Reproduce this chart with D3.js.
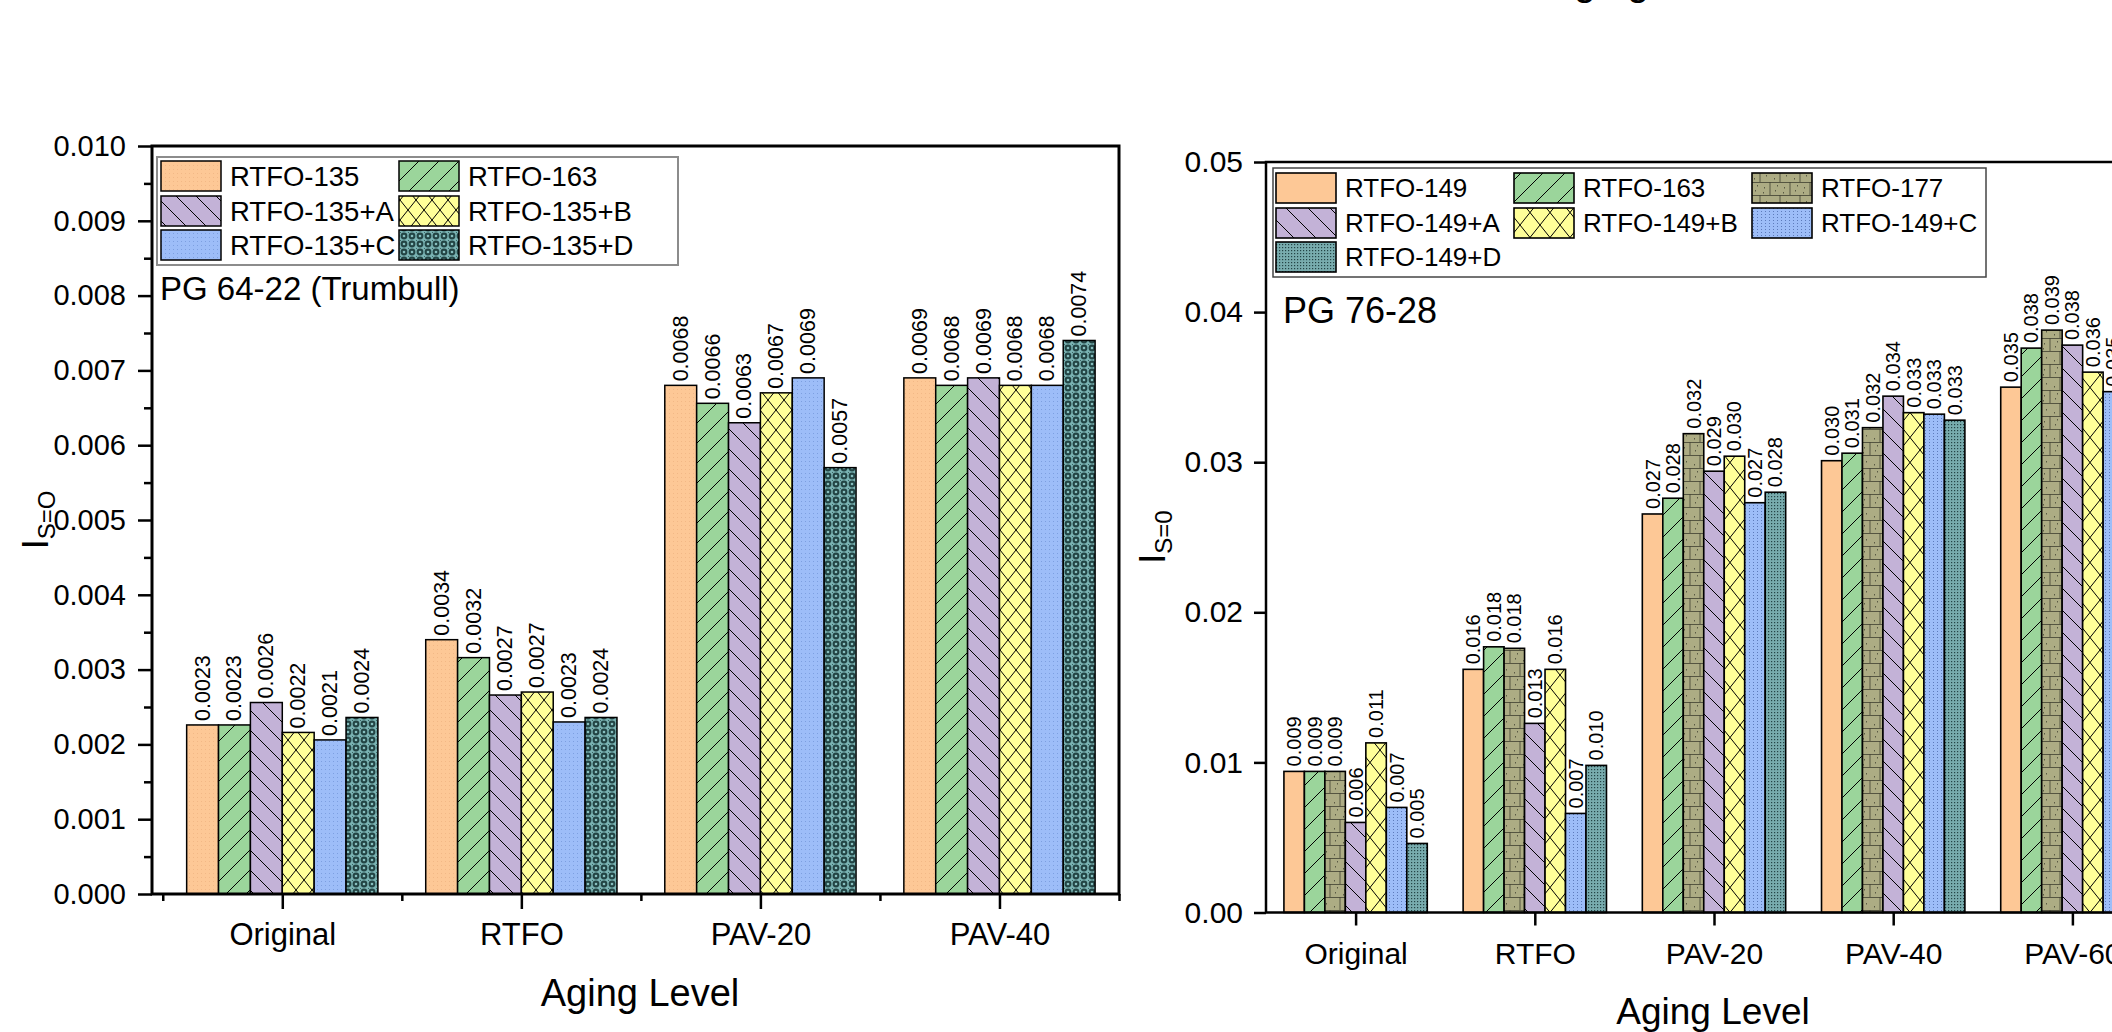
<!DOCTYPE html>
<html><head><meta charset="utf-8">
<script src="https://cdn.jsdelivr.net/npm/d3@7"></script>
<style>
body{margin:0;background:#fff}
svg{display:block}
text{font-family:"Liberation Sans",Arial,sans-serif;fill:#000}
</style>
</head><body>
<svg id="c" width="2112" height="1032"></svg>
<script>
// ---------- DATA ----------
const catsL = ["Original","RTFO","PAV-20","PAV-40"];
const seriesL = ["RTFO-135","RTFO-163","RTFO-135+A","RTFO-135+B","RTFO-135+C","RTFO-135+D"];
const L_135  = [0.00226, 0.00340, 0.00680, 0.00690];
const L_163  = [0.00226, 0.00316, 0.00656, 0.00680];
const L_135A = [0.00256, 0.00266, 0.00630, 0.00690];
const L_135B = [0.00216, 0.00270, 0.00670, 0.00680];
const L_135C = [0.00206, 0.00230, 0.00690, 0.00680];
const L_135D = [0.00236, 0.00236, 0.00570, 0.00740];
const yTicksL = [0,0.001,0.002,0.003,0.004,0.005,0.006,0.007,0.008,0.009,0.010];

const catsR = ["Original","RTFO","PAV-20","PAV-40","PAV-60"];
const seriesR = ["RTFO-149","RTFO-163","RTFO-177","RTFO-149+A","RTFO-149+B","RTFO-149+C","RTFO-149+D"];
const R_149  = [0.0094, 0.0162, 0.02655, 0.0301, 0.0350];
const R_163  = [0.0094, 0.0177, 0.0276, 0.0306, 0.0376];
const R_177  = [0.0094, 0.0176, 0.0319, 0.0323, 0.0388];
const R_149A = [0.0060, 0.0126, 0.0294, 0.0344, 0.0378];
const R_149B = [0.0113, 0.0162, 0.0304, 0.0333, 0.0360];
const R_149C = [0.0070, 0.0066, 0.0273, 0.0332, 0.0347];
const R_149D = [0.0046, 0.0098, 0.0280, 0.0328, 0.0360];
const yTicksR = [0,0.01,0.02,0.03,0.04,0.05];

const valsL = [L_135, L_163, L_135A, L_135B, L_135C, L_135D];
const valsR = [R_149, R_163, R_177, R_149A, R_149B, R_149C, R_149D];

// ---------- SVG ----------
const svg = d3.select("#c");
const defs = svg.append("defs");

const C = {orange:"#FDC896", green:"#9BD59B", purple:"#C3B2D7", yellow:"#FFFF99",
           blue:"#9DBDF8", olive:"#ADAC84"};

function pat(id,w,h,bg,draw){
  const p = defs.append("pattern").attr("id",id).attr("patternUnits","userSpaceOnUse")
    .attr("width",w).attr("height",h);
  p.append("rect").attr("width",w).attr("height",h).attr("fill",bg);
  if(draw) draw(p,w,h);
  return "url(#"+id+")";
}
function lines(p,d,sw,col){ p.append("path").attr("d",d).attr("stroke",col||"#000").attr("stroke-width",sw).attr("fill","none"); }

// left patterns
const fillL = [
  pat("lo",4,4,C.orange,(p)=>p.append("rect").attr("x",1).attr("y",1).attr("width",1).attr("height",1).attr("fill","#f2b886")),
  pat("lg",20,20,C.green,(p)=>lines(p,"M0,20L20,0M-5,5L5,-5M15,25L25,15",1)),
  pat("lp",20,20,C.purple,(p)=>lines(p,"M0,0L20,20M-5,15L5,25M15,-5L25,5",1)),
  pat("ly",16,20,C.yellow,(p)=>lines(p,"M0,0L16,20M16,0L0,20",1)),
  pat("lb",4,4,C.blue,(p)=>p.append("rect").attr("x",1).attr("y",1).attr("width",1).attr("height",1).attr("fill","#7d9fe0")),
  pat("lt",8,8,"#79b2b2",(p)=>{
    p.append("circle").attr("cx",4).attr("cy",4).attr("r",3.4).attr("fill","#234545");
    p.append("circle").attr("cx",4).attr("cy",4).attr("r",1.3).attr("fill","#86bebe");
    p.append("rect").attr("x",0).attr("y",0).attr("width",1).attr("height",1).attr("fill","#3b6464");
  })
];
// right patterns
const fillR = [
  C.orange,
  pat("rg",22,22,C.green,(p)=>lines(p,"M0,22L22,0M-5,5L5,-5M17,27L27,17",1)),
  pat("ro",20,26,C.olive,(p)=>{
    lines(p,"M0,0.5H20M0,13.5H20M10,0V13M0,13V26M20,13V26",0.8,"#3f3f30");
    [[4,5],[15,8],[6,19],[14,22],[3,10],[17,3]].forEach(d=>p.append("rect").attr("x",d[0]).attr("y",d[1]).attr("width",1).attr("height",1.5).attr("fill","#5a5a44"));
  }),
  pat("rp",22,22,C.purple,(p)=>lines(p,"M0,0L22,22M-5,17L5,27M17,-5L27,5",1)),
  pat("ry",20,25,C.yellow,(p)=>lines(p,"M0,0L20,25M20,0L0,25",1)),
  pat("rb",4,3,C.blue,(p)=>p.append("rect").attr("x",1).attr("y",1).attr("width",1).attr("height",1).attr("fill","#5d7bbb")),
  pat("rt",3,3,"#78acae",(p)=>p.append("rect").attr("x",1).attr("y",1).attr("width",1.2).attr("height",1.2).attr("fill","#244446"))
];

// ---------- LEFT CHART ----------
const xL = d3.scaleLinear().domain([0.455,4.5]).range([152,1119]);
const yL = d3.scaleLinear().domain([0,0.010]).range([894,146]);
const gL = svg.append("g");
const nL = seriesL.length, bwL = 0.8/nL;

seriesL.forEach((s,si)=>{
  const data = valsL[si].map((v,ci)=>({v,ci}));
  gL.append("g").selectAll("rect").data(data).join("rect")
    .attr("x",d=>xL(d.ci+1-0.4+si*bwL))
    .attr("width",xL(bwL)-xL(0))
    .attr("y",d=>yL(d.v)).attr("height",d=>yL(0)-yL(d.v))
    .attr("fill",fillL[si]).attr("stroke","#000").attr("stroke-width",1.5);
  gL.append("g").selectAll("text").data(data).join("text")
    .attr("transform",d=>`translate(${xL(d.ci+1-0.4+(si+0.5)*bwL)},${yL(d.v)-4}) rotate(-90)`)
    .attr("dominant-baseline","central").attr("font-size",21.5)
    .text(d=>d.v.toFixed(4));
});

function styleAxis(g,fs,sw){
  g.select(".domain").remove();
  g.selectAll(".tick line").attr("stroke","#000").attr("stroke-width",sw);
  g.selectAll(".tick text").attr("font-size",fs).attr("font-family","Liberation Sans, Arial, sans-serif").attr("fill","#000");
}
gL.append("g").attr("transform","translate(152,0)")
  .call(d3.axisLeft(yL).tickValues(yTicksL).tickSize(14).tickPadding(12).tickFormat(d3.format(".3f")))
  .call(g=>styleAxis(g,29,2.5));
gL.append("g").attr("transform","translate(152,0)")
  .call(d3.axisLeft(yL).tickValues(yTicksL.slice(0,-1).map(t=>t+0.0005)).tickSize(8).tickFormat(""))
  .call(g=>styleAxis(g,29,2.5));
gL.append("g").attr("transform","translate(0,894)")
  .call(d3.axisBottom(xL).tickValues([1,2,3,4]).tickSize(15).tickPadding(14).tickFormat(i=>catsL[i-1]))
  .call(g=>styleAxis(g,31,2.5));
gL.append("g").attr("transform","translate(0,894)")
  .call(d3.axisBottom(xL).tickValues([0.5,1.5,2.5,3.5,4.5]).tickSize(7).tickFormat(""))
  .call(g=>styleAxis(g,31,2.5));
gL.append("rect").attr("x",152).attr("y",146).attr("width",1119-152).attr("height",894-146)
  .attr("fill","none").attr("stroke","#000").attr("stroke-width",3);

// legend left
gL.append("rect").attr("x",157).attr("y",157).attr("width",521).attr("height",108)
  .attr("fill","#fff").attr("stroke","#8c8c8c").attr("stroke-width",2);
seriesL.forEach((s,i)=>{
  const x = [161,399][i%2], y = [161,196,230][Math.floor(i/2)];
  gL.append("rect").attr("x",x).attr("y",y).attr("width",60).attr("height",30)
    .attr("fill",fillL[i]).attr("stroke","#000").attr("stroke-width",1.5);
  gL.append("text").attr("x",x+69).attr("y",y+15).attr("dy","0.36em").attr("font-size",27.5).text(s);
});
gL.append("text").attr("x",160).attr("y",300).attr("font-size",33).text("PG 64-22 (Trumbull)");
gL.append("text").attr("transform","translate(48,520) rotate(-90)").attr("text-anchor","middle")
  .call(t=>{t.append("tspan").attr("font-size",36).text("I");
            t.append("tspan").attr("font-size",24).attr("dy",7).text("S=O");});
gL.append("text").attr("x",640).attr("y",1006).attr("text-anchor","middle").attr("font-size",38).text("Aging Level");

// ---------- RIGHT CHART ----------
const xR = d3.scaleLinear().domain([0.5,5.5]).range([1266,2162]);
const yR = d3.scaleLinear().domain([0,0.05]).range([912.5,162]);
const gR = svg.append("g");
const nR = seriesR.length, bwR = 0.8/nR;

seriesR.forEach((s,si)=>{
  const data = valsR[si].map((v,ci)=>({v,ci}));
  gR.append("g").selectAll("rect").data(data).join("rect")
    .attr("x",d=>xR(d.ci+1-0.4+si*bwR))
    .attr("width",xR(bwR)-xR(0))
    .attr("y",d=>yR(d.v)).attr("height",d=>yR(0)-yR(d.v))
    .attr("fill",fillR[si]).attr("stroke","#000").attr("stroke-width",1.6);
  gR.append("g").selectAll("text").data(data).join("text")
    .attr("transform",d=>`translate(${xR(d.ci+1-0.4+(si+0.5)*bwR)},${yR(d.v)-5}) rotate(-90)`)
    .attr("dominant-baseline","central").attr("font-size",20)
    .text(d=>d.v.toFixed(3));
});
gR.append("g").attr("transform","translate(1266,0)")
  .call(d3.axisLeft(yR).tickValues(yTicksR).tickSize(12).tickPadding(11).tickFormat(d3.format(".2f")))
  .call(g=>styleAxis(g,30,2.5));
gR.append("g").attr("transform","translate(0,912.5)")
  .call(d3.axisBottom(xR).tickValues([1,2,3,4,5]).tickSize(13).tickPadding(17).tickFormat(i=>catsR[i-1]))
  .call(g=>styleAxis(g,30,2.5));
gR.append("rect").attr("x",1266).attr("y",162).attr("width",2162-1266).attr("height",912.5-162)
  .attr("fill","none").attr("stroke","#000").attr("stroke-width",2.5);

gR.append("rect").attr("x",1273).attr("y",168).attr("width",713).attr("height",109)
  .attr("fill","#fff").attr("stroke","#444").attr("stroke-width",1.5);
seriesR.forEach((s,i)=>{
  const x = [1276,1514,1752][i%3], y = [173,208,242][Math.floor(i/3)];
  gR.append("rect").attr("x",x).attr("y",y).attr("width",60).attr("height",30)
    .attr("fill",fillR[i]).attr("stroke","#000").attr("stroke-width",1.6);
  gR.append("text").attr("x",x+69).attr("y",y+15).attr("dy","0.36em").attr("font-size",26).text(s);
});
gR.append("text").attr("x",1283).attr("y",323).attr("font-size",36).text("PG 76-28");
gR.append("text").attr("transform","translate(1165,537) rotate(-90)").attr("text-anchor","middle")
  .call(t=>{t.append("tspan").attr("font-size",36).text("I");
            t.append("tspan").attr("font-size",24).attr("dy",7).text("S=0");});
gR.append("text").attr("x",1713).attr("y",1024).attr("text-anchor","middle").attr("font-size",37).text("Aging Level");

// clipped title at very top
svg.append("text").attr("x",1547).attr("y",-5).attr("font-size",40).text("Aging Level");
</script>
</body></html>
